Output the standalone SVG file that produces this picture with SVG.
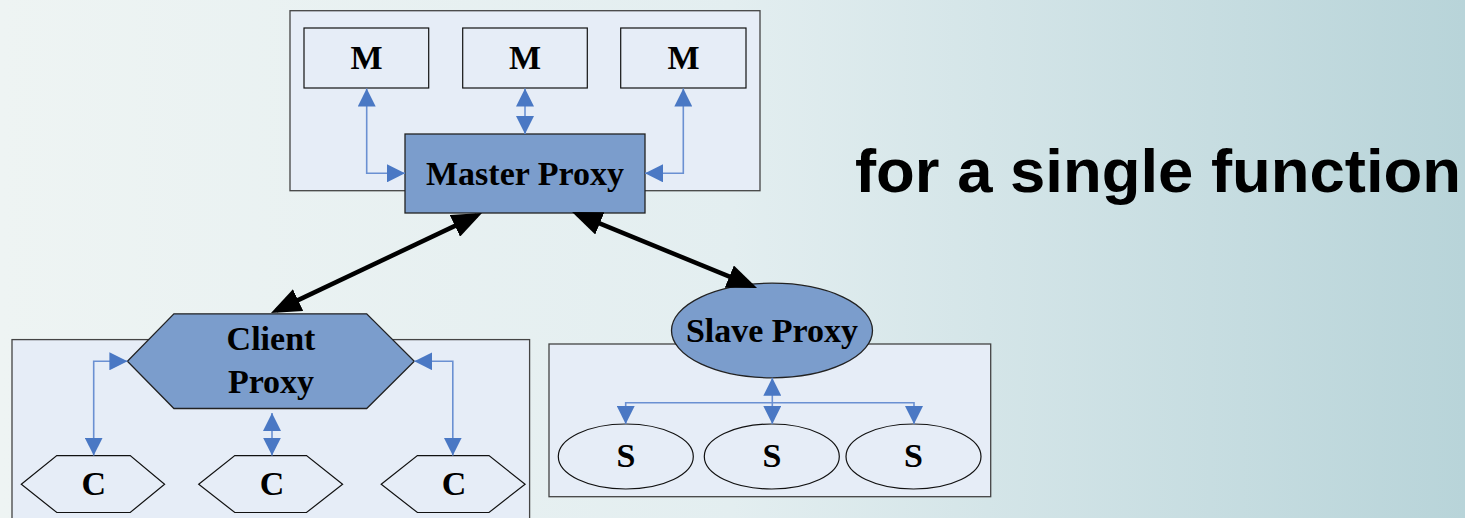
<svg xmlns="http://www.w3.org/2000/svg" width="1465" height="518" viewBox="0 0 1465 518">
<defs>
<linearGradient id="bg" x1="0" y1="0" x2="1" y2="0">
<stop offset="0" stop-color="#eef4f3"/>
<stop offset="0.5" stop-color="#e3eef0"/>
<stop offset="1" stop-color="#b8d4d9"/>
</linearGradient>
<marker id="ab" viewBox="0 0 18 18" refX="18" refY="9" markerWidth="18" markerHeight="18" markerUnits="userSpaceOnUse" orient="auto-start-reverse">
<path d="M0,0 L18,9 L0,18 Z" fill="#4a78c4"/>
</marker>
<marker id="ak" viewBox="0 0 30 24" refX="24" refY="12" markerWidth="30" markerHeight="24" markerUnits="userSpaceOnUse" orient="auto-start-reverse">
<path d="M0,0 L30,12 L0,24 Z" fill="#000"/>
</marker>
<style>
.cont{fill:#e6edf7;stroke:#444;stroke-width:1.3}
.shape{fill:#e6edf7;stroke:#111;stroke-width:1.2}
.proxy{fill:#7b9dcc;stroke:#222;stroke-width:1.3}
.lbl{font-family:"Liberation Serif","Times New Roman",serif;font-weight:bold;font-size:34px;fill:#000;text-anchor:middle}
.one{font-size:34px}
.blue{fill:none;stroke:#6a90d2;stroke-width:1.6;marker-start:url(#ab);marker-end:url(#ab)}
.black{fill:none;stroke:#000;stroke-width:4.5;marker-start:url(#ak);marker-end:url(#ak)}
.title{font-family:"Liberation Sans",Arial,sans-serif;font-weight:bold;font-size:61px;fill:#000}
</style>
</defs>
<rect width="1465" height="518" fill="url(#bg)"/>

<g id="master-group">
<rect class="cont" x="290" y="10.7" width="470" height="180"/>
</g>
<g id="m1"><rect class="shape" x="304" y="28" width="124.7" height="60"/><text class="lbl one" x="366.5" y="69">M</text></g>
<g id="m2"><rect class="shape" x="462.7" y="28" width="124.6" height="60"/><text class="lbl one" x="525" y="69">M</text></g>
<g id="m3"><rect class="shape" x="620.7" y="28" width="125.3" height="60"/><text class="lbl one" x="683.5" y="69">M</text></g>
<g id="master-proxy"><rect class="proxy" x="405" y="134" width="240" height="79"/><text class="lbl" x="525" y="185">Master Proxy</text></g>

<g id="client-group">
<rect class="cont" x="12" y="339.6" width="517.6" height="200"/>
</g>
<g id="client-proxy"><polygon class="proxy" points="173.9,313.8 366.7,313.8 414.3,361.3 366.7,408.5 173.9,408.5 127.4,361.3"/><text class="lbl" x="271" y="350">Client</text><text class="lbl" x="271" y="393">Proxy</text></g>
<g id="c1"><polygon class="shape" points="21.3,484.2 56.8,455.6 130.2,455.6 164.6,484.2 130.2,512.5 56.8,512.5"/><text class="lbl one" x="93.7" y="494.6">C</text></g>
<g id="c2"><polygon class="shape" points="198.7,484.2 234.8,455.6 306.5,455.6 342.6,484.2 306.5,512.5 234.8,512.5"/><text class="lbl one" x="272" y="494.6">C</text></g>
<g id="c3"><polygon class="shape" points="381.2,484.2 417.4,455.6 489,455.6 525.1,484.2 489,512.5 417.4,512.5"/><text class="lbl one" x="454" y="494.6">C</text></g>

<g id="slave-group">
<rect class="cont" x="549" y="344" width="441.7" height="152.7"/>
</g>
<g id="slave-proxy"><ellipse class="proxy" cx="772" cy="330.5" rx="100.5" ry="47.3"/><text class="lbl" x="772" y="342">Slave Proxy</text></g>
<g id="s1"><ellipse class="shape" cx="625.8" cy="456.5" rx="67.5" ry="32.5"/><text class="lbl one" x="626" y="466.7">S</text></g>
<g id="s2"><ellipse class="shape" cx="771.8" cy="456.5" rx="67.5" ry="32.5"/><text class="lbl one" x="772" y="466.7">S</text></g>
<g id="s3"><ellipse class="shape" cx="913.5" cy="456.5" rx="67.5" ry="32.5"/><text class="lbl one" x="913.5" y="466.7">S</text></g>

<g id="connectors">
<path class="blue" d="M366.7,88.5 V173.3 H405"/>
<path class="blue" d="M525,88.5 V134"/>
<path class="blue" d="M683.3,88.5 V173.3 H645"/>
<path class="blue" d="M127.4,361.3 H93.7 V455.6"/>
<path class="blue" d="M272,413 V455.6"/>
<path class="blue" d="M414.3,361.3 H452.8 V455.6"/>
<path class="blue" d="M772.3,377.8 V424"/>
<path class="blue" d="M625.7,424 V402.7 H914 V424"/>
<path class="black" d="M476.6,215.6 L276.4,310.4"/>
<path class="black" d="M577.6,214.3 L751.5,285.7"/>
</g>

<text class="title" x="855" y="191.7" textLength="606" lengthAdjust="spacingAndGlyphs">for a single function</text>
</svg>
